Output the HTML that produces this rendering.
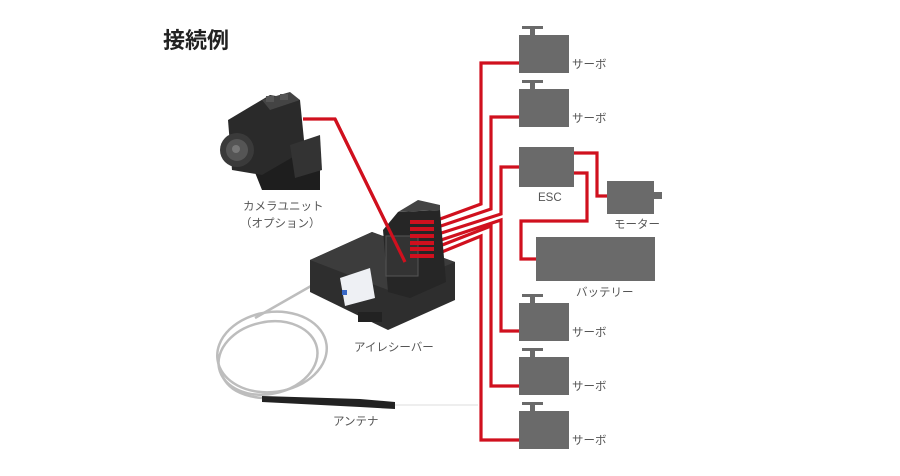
<!DOCTYPE html>
<html><head><meta charset="utf-8"><style>
html,body{margin:0;padding:0;background:#fff;}
svg{display:block}
text{font-family:"Liberation Sans","Noto Sans CJK JP",sans-serif;fill:#555;font-size:11.5px}
</style></head><body>
<svg width="900" height="476" viewBox="0 0 900 476" xmlns="http://www.w3.org/2000/svg">
<rect width="900" height="476" fill="#fff"/>
<text x="163" y="48" style="font-size:22px;font-weight:bold;fill:#222">接続例</text>

<!-- servos -->
<g fill="#6a6a6a">
 <g id="s"><rect x="522" y="26" width="21" height="3"/><rect x="530" y="28" width="5" height="8"/><rect x="519" y="35" width="50" height="38"/></g>
 <use href="#s" y="54"/>
 <use href="#s" y="268"/>
 <use href="#s" y="322"/>
 <use href="#s" y="376"/>
 <rect x="519" y="147" width="55" height="40"/>
 <rect x="607" y="181" width="47" height="33"/>
 <rect x="654" y="192" width="8" height="7"/>
 <rect x="536" y="237" width="119" height="44"/>
</g>
<text x="572" y="68">サーボ</text>
<text x="572" y="122">サーボ</text>
<text x="538" y="201">ESC</text>
<text x="614" y="228">モーター</text>
<text x="576" y="296">バッテリー</text>
<text x="572" y="336">サーボ</text>
<text x="572" y="390">サーボ</text>
<text x="572" y="444">サーボ</text>

<!-- red wires -->
<g fill="none" stroke="#d0101e" stroke-width="3.2">
 <polyline points="519,63 481,63 481,204 432,222"/>
 <polyline points="519,117 491,117 491,209 432,229"/>
 <polyline points="519,167 501,167 501,214 432,236"/>
 <polyline points="432,243 501,220 501,331 519,331"/>
 <polyline points="432,249 491,226 491,386 519,386"/>
 <polyline points="432,256 481,236 481,440 519,440"/>
 <polyline points="574,153 597,153 597,196 607,196"/>
 <polyline points="574,173 587,173 587,221 521,221 521,259 536,259"/>
 <polyline points="303,119 335,119 405,262"/>
</g>

<!-- antenna -->
<g fill="none" stroke="#bdbdbd" stroke-width="2.5">
 <path d="M318,282 L255,318"/>
 <ellipse cx="272" cy="352" rx="55" ry="40" transform="rotate(-8 272 352)"/>
 <ellipse cx="268" cy="358" rx="50" ry="36" transform="rotate(-12 268 358)"/>
 <path d="M222,375 Q230,395 262,398"/>
</g>
<path d="M262,396 L360,399 L395,402 L395,409 L360,407 L262,402Z" fill="#222"/>
<line x1="395" y1="405" x2="478" y2="405" stroke="#ddd" stroke-width="1"/>

<!-- receiver -->
<polygon points="310,260 372,232 455,262 455,300 388,330 310,292" fill="#2e2e2e"/>
<polygon points="310,260 372,232 455,262 388,290" fill="#3c3c3c"/>
<polygon points="340,278 370,268 375,298 345,306" fill="#eef0f4"/>
<rect x="342" y="290" width="5" height="5" fill="#3a6ac8"/>
<polygon points="383,230 398,212 440,210 446,282 410,298 388,292" fill="#262626"/>
<polygon points="398,212 418,200 440,205 440,210" fill="#444"/>
<rect x="386" y="236" width="32" height="40" fill="#333" stroke="#555"/>
<g fill="#d0101e">
 <rect x="410" y="220" width="24" height="4"/><rect x="410" y="227" width="24" height="4"/>
 <rect x="410" y="234" width="24" height="4"/><rect x="410" y="241" width="24" height="4"/>
 <rect x="410" y="247" width="24" height="4"/><rect x="410" y="254" width="24" height="4"/>
</g>
<line x1="335" y1="119" x2="405" y2="262" stroke="#d0101e" stroke-width="3.2"/>
<rect x="358" y="312" width="24" height="10" fill="#222"/>

<!-- camera -->
<polygon points="262,190 250,160 300,135 320,170 320,190" fill="#1e1e1e"/>
<polygon points="228,120 270,95 300,100 305,150 262,175 232,170" fill="#2a2a2a"/>
<polygon points="262,100 290,92 300,100 270,110" fill="#444"/>
<rect x="266" y="96" width="8" height="6" fill="#555"/><rect x="280" y="94" width="8" height="6" fill="#555"/>
<polygon points="290,145 320,135 322,170 295,178" fill="#333"/>
<circle cx="237" cy="150" r="17" fill="#3a3a3a"/>
<circle cx="237" cy="150" r="11" fill="#555"/>
<circle cx="236" cy="149" r="4" fill="#777"/>

<text x="243" y="210">カメラユニット</text>
<text x="240" y="227">（オプション）</text>
<text x="354" y="351">アイレシーバー</text>
<text x="333" y="425">アンテナ</text>
</svg>
</body></html>
